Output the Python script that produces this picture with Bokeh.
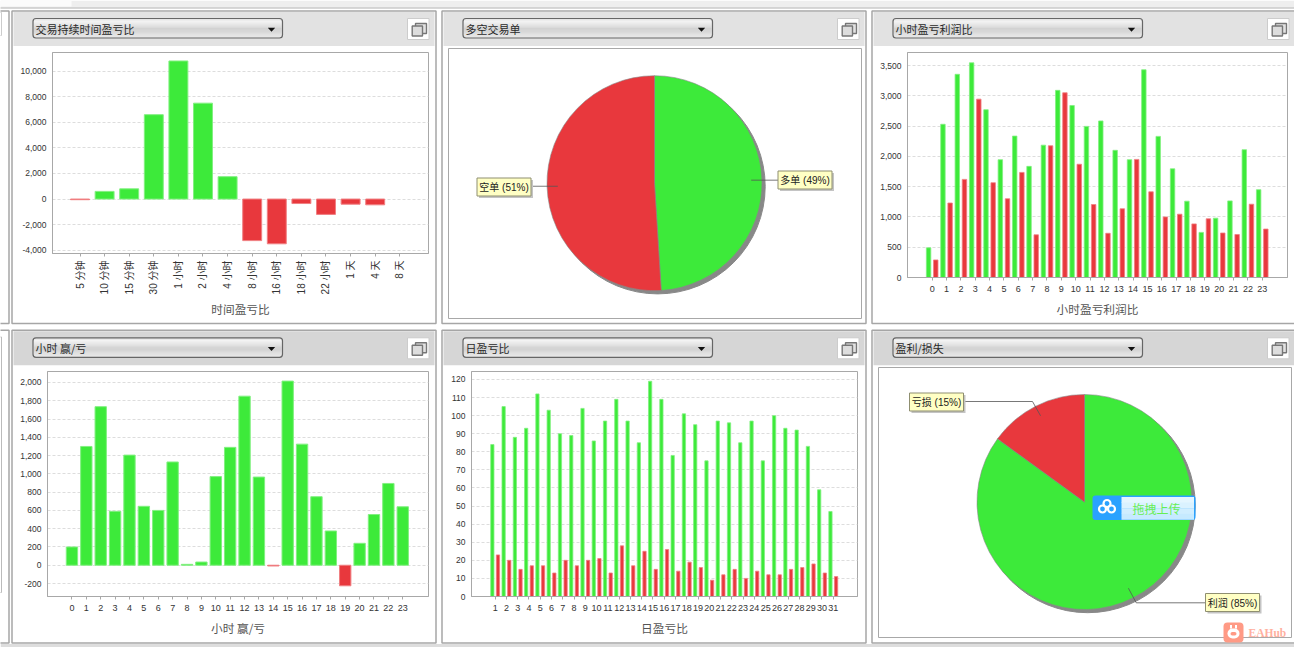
import math
from bokeh.embed import file_html
from bokeh.resources import INLINE
from bokeh.layouts import column, row
from bokeh.plotting import figure
from bokeh.models import (BoxAnnotation, Label, PolyAnnotation, FixedTicker, NumeralTickFormatter, Range1d)

# ---------- data ----------
dur_labels = ["5 分钟", "10 分钟", "15 分钟", "30 分钟", "1 小时", "2 小时", "4 小时", "8 小时", "16 小时", "18 小时", "22 小时", "1 天", "4 天", "8 天"]
dur_values = [-50, 600, 800, 6600, 10800, 7500, 1750, -3250, -3500, -350, -1200, -400, -450, 0]
side_labels = ["多单", "空单"]
side_values = [49, 51]
hours = list(range(24))
hour_profit = [490, 2530, 3355, 3545, 2770, 1945, 2335, 1835, 2185, 3090, 2840, 2495, 2585, 2100, 1945, 3430, 2330, 1795, 1260, 745, 980, 1265, 2110, 1450]
hour_loss = [290, 1230, 1620, 2945, 1565, 1300, 1735, 705, 2175, 3050, 1870, 1205, 730, 1135, 1950, 1415, 1000, 1045, 885, 970, 735, 710, 1210, 800]
hour_net = [200, 1300, 1735, 590, 1205, 645, 600, 1130, 10, 35, 970, 1290, 1850, 965, -8, 2015, 1325, 750, 375, -225, 240, 555, 895, 640]
days = list(range(1, 32))
day_win = [84, 105, 88, 93, 112, 103, 90, 89, 104, 86, 97, 109, 97, 85, 119, 109, 78, 101, 95, 75, 97, 96, 85, 97, 75, 100, 93, 92, 83, 59, 47]
day_loss = [23, 20, 15, 17, 17, 13, 20, 17, 20, 21, 13, 28, 17, 25, 15, 26, 14, 19, 16, 9, 12, 15, 10, 14, 12, 12, 15, 16, 18, 13, 11]
pl_labels = ["利润", "亏损"]
pl_values = [85, 15]

GREEN, RED = "#3dea3a", "#e8383d"
GREEN_E, RED_E = "#82f080", "#f07f82"
CJK = "Noto Sans CJK SC"
SANS = "Liberation Sans, 'Noto Sans CJK SC'"
AXC, GRID = "#a8a8a8", "#dddddd"
COLS = [(0, 438), (438, 430), (868, 426)]
ROWS = [(0, 326), (326, 321)]
W, H = 1294, 647


def chart(c, r, frame, **kw):
    ox, w = COLS[c]
    oy, h = ROWS[r]
    l, t, rt, b = frame
    p = figure(width=w, height=h, output_backend="svg", toolbar_location=None, frame_align=False,
               min_border_left=l - ox, min_border_right=ox + w - rt,
               min_border_top=t - oy, min_border_bottom=oy + h - b, **kw)
    p.outline_line_color = AXC
    p.border_fill_color = "white"
    p.background_fill_color = "white"
    return p


# transparent top sheet that carries the panel furniture around the charts
ov = figure(width=W, height=H, output_backend="svg", toolbar_location=None, frame_align=False,
            x_range=Range1d(0, W), y_range=Range1d(H, 0), min_border=0,
            margin=(-H, 0, 0, 0))
ov.axis.visible = False
ov.grid.visible = False
ov.outline_line_color = None
ov.border_fill_color = None
ov.background_fill_color = None


def box(l, t, r, b, fill=None, line=None, lw=1, radius=0):
    ov.add_layout(BoxAnnotation(left=l, right=r, top=t, bottom=b,
                                left_units="canvas", right_units="canvas", top_units="canvas", bottom_units="canvas",
                                fill_color=fill, fill_alpha=1 if fill else 0,
                                line_color=line, line_alpha=1 if line else 0, line_width=lw,
                                level="annotation", border_radius=radius, editable=False))


def text(x, y, s, size=11, color="#222222", align="left", font=CJK, style="normal"):
    ov.add_layout(Label(x=x, y=y, x_units="canvas", y_units="canvas",
                        text=s, text_font=font, text_font_size=f"{size}px", text_color=color,
                        text_align=align, text_baseline="middle", text_font_style=style, level="annotation"))


def poly(pts, color):
    ov.add_layout(PolyAnnotation(xs=[a for a, _ in pts], ys=[b for _, b in pts],
                                 xs_units="canvas", ys_units="canvas", fill_color=color, fill_alpha=1,
                                 line_alpha=0, editable=False))


def chrome(left, top, right, bottom, title, hdr):
    box(left, top, right, bottom, None, "#a6a6a6", 1.5)
    box(left + 1.5, top + 1, right - 1.5, top + 35, hdr)
    cl, cr, ct = left + 21, left + 270.5, top + 7.5
    box(cl, ct, cr, ct + 19.5, "#e6e6e6", None, radius=3)
    for i, col in enumerate(["#f3f3f3", "#efefef", "#ebebeb", "#e6e6e6", "#e0e0e0", "#dadada", "#d2d2d2", "#d2d2d2", "#d6d6d6", "#dadada", "#dedede", "#e2e2e2", "#e6e6e6"]):
        box(cl + 1, ct + 2 + i * 1.25, cr - 1, ct + 2 + (i + 1) * 1.25 + .3, col)
    box(cl, ct, cr, ct + 19.5, None, "#666666", 1.2, radius=3)
    text(cl + 2.5, ct + 10, title, 11, "#2a2a2a")
    ax = cr - 11
    poly([(ax - 3.7, ct + 9.3), (ax + 3.7, ct + 9.3), (ax, ct + 13.2)], "#111111")
    bx = (right if right < W else 1295.5) - 28.5
    box(bx, top + 7.5, bx + 21.5, top + 28.5, "#ffffff", "#cccccc", 1)
    box(bx + 8, top + 12.5, bx + 19, top + 22.5, "#e2e2e2", "#777777", 1.4)
    box(bx + 4.7, top + 15, bx + 15, top + 25, "#dddddd", "#777777", 1.4)


def style_axes(p, ticks, labels):
    p.xaxis.ticker = FixedTicker(ticks=ticks)
    p.xaxis.major_label_overrides = {t: str(s) for t, s in zip(ticks, labels)}
    p.xaxis.major_tick_in = 0
    p.xaxis.major_tick_out = 3
    p.xaxis.major_tick_line_color = AXC
    p.xaxis.minor_tick_line_color = None
    p.xaxis.axis_line_color = AXC
    p.xaxis.major_label_text_font = SANS
    p.xaxis.major_label_text_font_size = "9px"
    p.xaxis.major_label_text_color = "#333333"
    p.xaxis.axis_label_text_font = CJK
    p.xaxis.axis_label_text_font_size = "11.7px"
    p.xaxis.axis_label_text_font_style = "normal"
    p.xaxis.axis_label_text_color = "#555555"
    p.xaxis.axis_label_standoff = 5
    p.yaxis.major_tick_in = 0
    p.yaxis.major_tick_out = 0
    p.yaxis.minor_tick_line_color = None
    p.yaxis.axis_line_color = AXC
    p.yaxis.major_label_standoff = 6
    p.yaxis.major_label_text_font = "Liberation Sans"
    p.yaxis.major_label_text_font_size = "8.5px"
    p.yaxis.major_label_text_color = "#333333"
    p.yaxis.formatter = NumeralTickFormatter(format="0,0")
    p.xgrid.grid_line_color = None
    p.ygrid.grid_line_color = GRID
    p.ygrid.grid_line_dash = "3 2"


def signed_bars(p, xs, vals, width):
    nz = [(x, v) for x, v in zip(xs, vals) if v != 0]
    p.vbar(x=[x for x, _ in nz], top=[v for _, v in nz], bottom=0, width=width,
           fill_color=[GREEN if v >= 0 else RED for _, v in nz],
           line_color=[GREEN_E if v >= 0 else RED_E for _, v in nz], line_width=1)


def paired_bars(p, xs, up, down, off, width):
    p.vbar(x=[x - off for x in xs], top=up, bottom=0, width=width, fill_color=GREEN, line_color=GREEN_E, line_width=.8)
    p.vbar(x=[x + off for x in xs], top=down, bottom=0, width=width, fill_color=RED, line_color=RED_E, line_width=.8)


def callout(l, t, s):
    box(l + 2, t + 2, l + 56, t + 20, "#c4c4c4", None)
    box(l, t, l + 54, t + 18, "#ffffc4", "#8f8f70", 1)
    text(l + 27, t + 9.5, s, 10, "#222222", "center", SANS)


def pie(p, values, labels, center, radius, frame, colors, out_boxes):
    l, t, r, b = frame
    cx, cy = center
    p.x_range = Range1d((l - cx) / radius, (r - cx) / radius)
    p.y_range = Range1d((cy - b) / radius, (cy - t) / radius)
    p.xaxis.visible = False
    p.yaxis.visible = False
    p.grid.visible = False
    s = 3.2 / radius
    p.circle(x=[s], y=[-s], radius=1.0, fill_color="#888888", line_color="#888888")
    total = sum(values)
    ang = math.pi / 2
    for v, col, lab, ob in zip(values, colors, labels, out_boxes):
        sweep = 2 * math.pi * v / total
        p.wedge(x=[0], y=[0], radius=1.0, start_angle=ang - sweep, end_angle=ang, fill_color=col,
                line_color="#8a8a8a", line_width=.6)
        mid = ang - sweep / 2
        xs = [.9 * math.cos(mid)]
        ys = [.9 * math.sin(mid)]
        if ob["elbow"]:
            xs.append((ob["elbow"][0] - cx) / radius)
            ys.append((cy - ob["elbow"][1]) / radius)
        tx = ob["x"] + (54 if ob["x"] < cx else 0)
        xs.append((tx - cx) / radius)
        ys.append(ys[-1])
        p.line(xs, ys, line_color="#555555", line_width=.8, level="overlay")
        callout(ob["x"], ob["y"], f"{lab} ({v}%)")
        ang -= sweep


# ---------- page furniture ----------
box(0, 0, W, 7, "#eeeeee")
box(0, 0, 71, 6, "#fbfbfb")
box(-2, 7, W + 2, 8, "#b0b0b0")
box(0, 643.5, W, 647, "#dddddd")
box(-5, 10.5, 8.5, 323, None, "#a6a6a6", 1.5)
box(-3, 12, 1, 35, "#ffffff", "#cccccc")
box(-5, 329.8, 8.5, 642.5, None, "#a6a6a6", 1.5)
box(-3, 336.5, 1, 592, "#ffffff", "#bbbbbb")

# ---------- panel 1 ----------
p1 = chart(0, 0, (52, 52, 428, 253), x_range=Range1d(-1.118, 14.167), y_range=Range1d(-4258, 11463))
chrome(11.5, 10.5, 435.5, 323, "交易持续时间盈亏比", "#e2e2e2")
dx = list(range(len(dur_labels)))
signed_bars(p1, dx, dur_values, .77)
style_axes(p1, dx, dur_labels)
p1.xaxis.major_label_orientation = math.pi / 2
p1.xaxis.major_label_text_font_size = "10px"
p1.xaxis.major_label_standoff = 4
p1.xaxis.axis_label = "时间盈亏比"
p1.xaxis.axis_label_standoff = 3
p1.yaxis.ticker = FixedTicker(ticks=list(range(-4000, 10001, 2000)))

# ---------- panel 2 ----------
F2 = (448, 48, 861, 318)
p2 = chart(1, 0, F2)
chrome(441.5, 10.5, 865.5, 323, "多空交易单", "#e2e2e2")
pie(p2, side_values, side_labels, (654, 182.7), 107.5, F2, [GREEN, RED],
    [{"x": 777.5, "y": 170.5, "elbow": None}, {"x": 476.5, "y": 177.5, "elbow": None}])

# ---------- panel 3 ----------
p3 = chart(2, 0, (907, 52, 1287, 277), x_range=Range1d(-1.72, 24.76), y_range=Range1d(0, 3715))
chrome(871.5, 10.5, 1300, 323, "小时盈亏利润比", "#e2e2e2")
paired_bars(p3, hours, hour_profit, hour_loss, .25, .31)
style_axes(p3, hours, hours)
p3.xaxis.axis_label = "小时盈亏利润比"
p3.yaxis.ticker = FixedTicker(ticks=list(range(0, 3501, 500)))

# ---------- panel 4 ----------
p4 = chart(0, 1, (47, 371, 428, 596), x_range=Range1d(-1.70, 24.79), y_range=Range1d(-342, 2120))
chrome(11.5, 329.8, 435.5, 642.5, "小时 赢/亏", "#d6d6d6")
signed_bars(p4, hours, hour_net, .79)
style_axes(p4, hours, hours)
p4.xaxis.axis_label = "小时 赢/亏"
p4.yaxis.ticker = FixedTicker(ticks=list(range(-200, 2001, 200)))

# ---------- panel 5 ----------
p5 = chart(1, 1, (471, 371, 857, 596), x_range=Range1d(-1.1, 33.15), y_range=Range1d(0, 124.4))
chrome(441.5, 329.8, 865.5, 642.5, "日盈亏比", "#d6d6d6")
paired_bars(p5, days, day_win, day_loss, .25, .29)
style_axes(p5, days, days)
p5.xaxis.axis_label = "日盈亏比"
p5.yaxis.ticker = FixedTicker(ticks=list(range(0, 121, 10)))
p5.yaxis.formatter = NumeralTickFormatter(format="0")

# ---------- panel 6 ----------
F6 = (878, 367, 1291, 637)
p6 = chart(2, 1, F6)
chrome(871.5, 329.8, 1300, 642.5, "盈利/损失", "#d6d6d6")
pie(p6, pl_values, pl_labels, (1084, 501.5), 107.5, F6, [GREEN, RED],
    [{"x": 1205, "y": 593, "elbow": (1135.7, 602.3)}, {"x": 909, "y": 392.5, "elbow": (1032, 401)}])

# upload badge
box(1092, 495, 1195, 519.5, "#2aa2ff", None, radius=3)
for i, col in enumerate(["#e4f6ff", "#daf2ff", "#d0eeff", "#c6eaff"]):
    box(1121, 496.5 + i * 5.6, 1193.5, 496.5 + (i + 1) * 5.6 + .3, col, None)
text(1156, 507.5, "拖拽上传", 12, "#66ee55", "center")
for rx, ry in [(1102, 508.5), (1106.5, 503), (1111, 508.5)]:
    box(rx - 3.5, ry - 3.5, rx + 3.5, ry + 3.5, "#2aa2ff", "#ffffff", 2.2, radius=4)
# watermark
box(1223, 622, 1243, 642, "#ff9a85", None, radius=4)
box(1227, 628, 1239, 638, "#ffffff", None, radius=5)
box(1229.5, 624.5, 1231.5, 628, "#ffffff", None)
box(1234.5, 624.5, 1236.5, 628, "#ffffff", None)
box(1230, 631.5, 1236, 635, "#ff9a85", None, radius=2)
text(1248, 632, "EAHub", 11.5, "#ffb0a0", "left", "Liberation Serif", "bold")

page = column(row(p1, p2, p3, spacing=0), row(p4, p5, p6, spacing=0), ov, spacing=0)
open("out.html", "w").write(file_html(page, INLINE))
